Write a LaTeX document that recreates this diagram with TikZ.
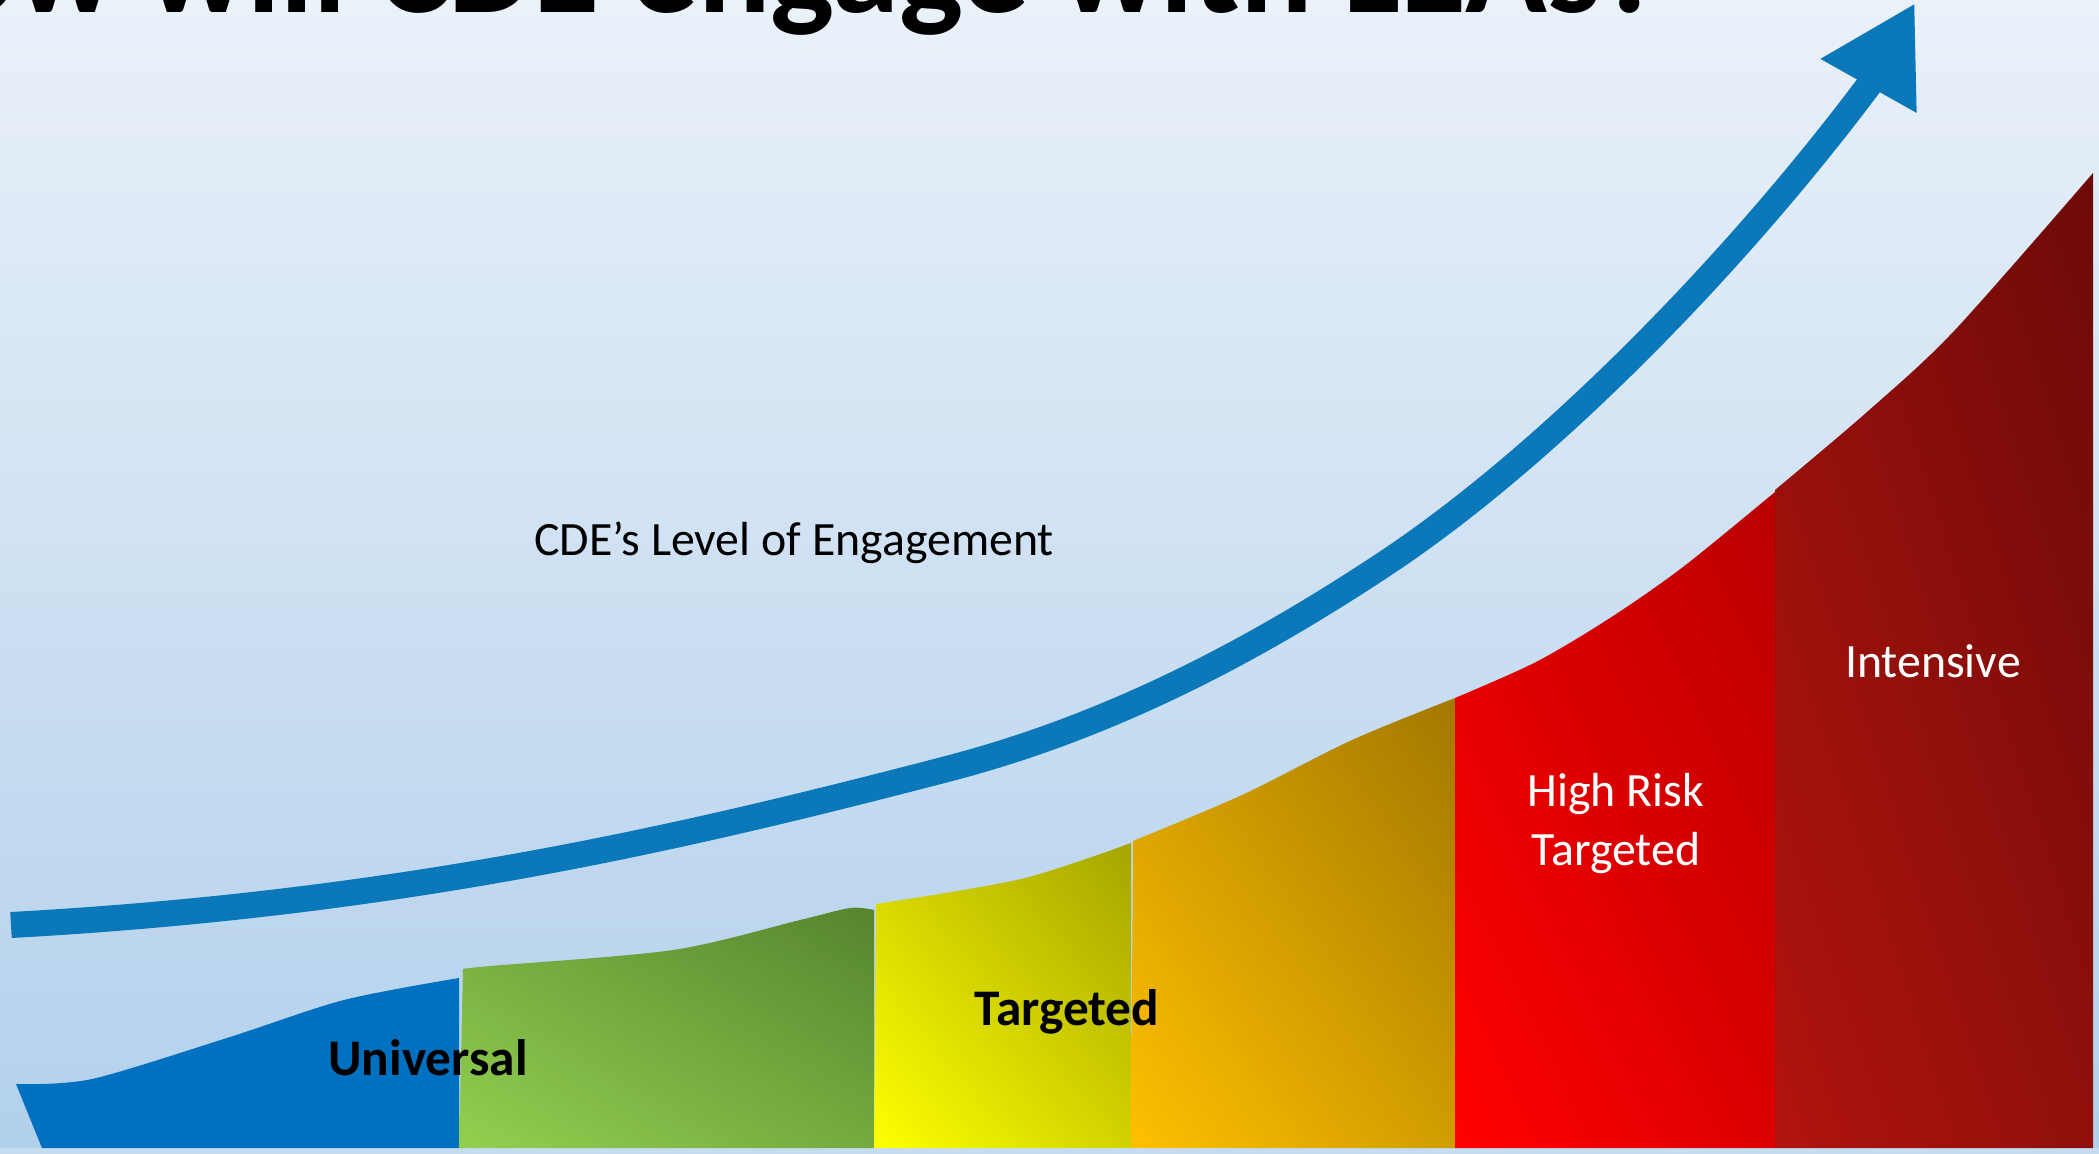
\documentclass[tikz,border=0pt]{standalone}
\usepackage{fontspec}
\setmainfont{Carlito}
\usetikzlibrary{arrows.meta,shadings}
\definecolor{bgtop}{RGB}{234,241,249}
\definecolor{bgbot}{RGB}{178,208,236}
\definecolor{bgstrip}{RGB}{196,221,241}
\definecolor{cdeblue}{RGB}{11,120,185}
\definecolor{univblue}{RGB}{0,112,192}
\definecolor{grnlight}{RGB}{146,208,80}
\definecolor{grndark}{RGB}{86,132,46}
\definecolor{yellight}{RGB}{255,255,0}
\definecolor{yeldark}{RGB}{165,165,0}
\definecolor{orglight}{RGB}{255,192,0}
\definecolor{orgdark}{RGB}{162,120,0}
\definecolor{redlight}{RGB}{255,0,0}
\definecolor{reddark}{RGB}{185,0,0}
\definecolor{maroonlight}{RGB}{178,20,14}
\definecolor{maroondark}{RGB}{108,10,8}

\begin{document}
\begin{tikzpicture}[x=0.01cm, y=-0.01cm,
  band/.style 2 args={lower left=#1, upper right=#2,
    upper left=#1!50!#2, lower right=#1!50!#2},
  tierbold/.style={anchor=base, inner sep=0pt, text=black,
    font=\bfseries\fontsize{14.6}{17}\selectfont},
  tierwhite/.style={anchor=base, inner sep=0pt, text=white, align=center,
    font=\fontsize{13.6}{16.5}\selectfont}]
\useasboundingbox (0,0) rectangle (2099,1154);
\begin{scope}
\clip (0,0) rectangle (2099,1154);
% Background
\shade[top color=bgtop, bottom color=bgbot] (0,0) rectangle (2099,1154);
\fill[bgstrip] (0,1148) rectangle (2099,1154);
% Title, cut off by the top edge
\node[anchor=base east, inner sep=0pt,
      font=\bfseries\fontsize{38.4}{46}\selectfont] (title) at (1664,12)
      {How will CDE engage with LEAs?};
% Tiers under the curve
\fill[univblue] (42,1148) -- (16,1084)
  -- plot[smooth] coordinates {(16,1084) (92,1079) (230,1037) (344,1000) (459,978)}
  -- (459,1148) -- cycle;
\shade[band={grnlight}{grndark}] (459,1148) -- (463,969)
  -- plot[smooth] coordinates {(463,969) (490,966) (673,950) (800,920) (850,908) (874,910)}
  -- (874,1148) -- cycle;
\shade[band={yellight}{yeldark}] (874,1148) -- (876,904)
  -- plot[smooth] coordinates {(876,904) (1021,879) (1131,843)}
  -- (1131,1148) -- cycle;
\shade[band={orglight}{orgdark}] (1131,1148) -- (1133,841)
  -- plot[smooth] coordinates {(1133,841) (1242,795) (1352,740) (1455,698)}
  -- (1455,1148) -- cycle;
\shade[band={redlight}{reddark}] (1455,1148) -- (1455,698)
  -- plot[smooth] coordinates {(1455,698) (1536,662) (1610,618) (1683,567) (1775,492)}
  -- (1775,1148) -- cycle;
\shade[band={maroonlight}{maroondark}] (1775,1148) -- (1775,490)
  -- plot[smooth] coordinates {(1775,490) (1867,412) (1954,331) (2093,173)}
  -- (2093,1148) -- cycle;
% Rising engagement arrow
\coordinate (lowstart) at (11,925);
\coordinate (headbase) at (1869,85);
\coordinate (peak) at (1915,3);
\draw[cdeblue, line width=0.26cm, -{Triangle[length=0.95cm, width=1.03cm]}]
  (lowstart) .. controls (411,903) and (697,834) .. (947,769)
  .. controls (1097,730) and (1239,661) .. (1389,561)
  .. controls (1549,454) and (1735,264) .. (headbase) -- (peak);
% Labels
\node[anchor=base, inner sep=0pt, font=\fontsize{13.6}{16.5}\selectfont]
  (engage) at (794,555) {CDE’s Level of Engagement};
\node[tierbold] (univ) at (428,1075) {Universal};
\node[tierbold] (targ) at (1067,1025) {Targeted};
\node[tierwhite] (highrisk) at (1616,865) {High Risk\\Targeted};
\node[tierwhite] (intens) at (1933,677) {Intensive};
\end{scope}
\end{tikzpicture}
\end{document}
